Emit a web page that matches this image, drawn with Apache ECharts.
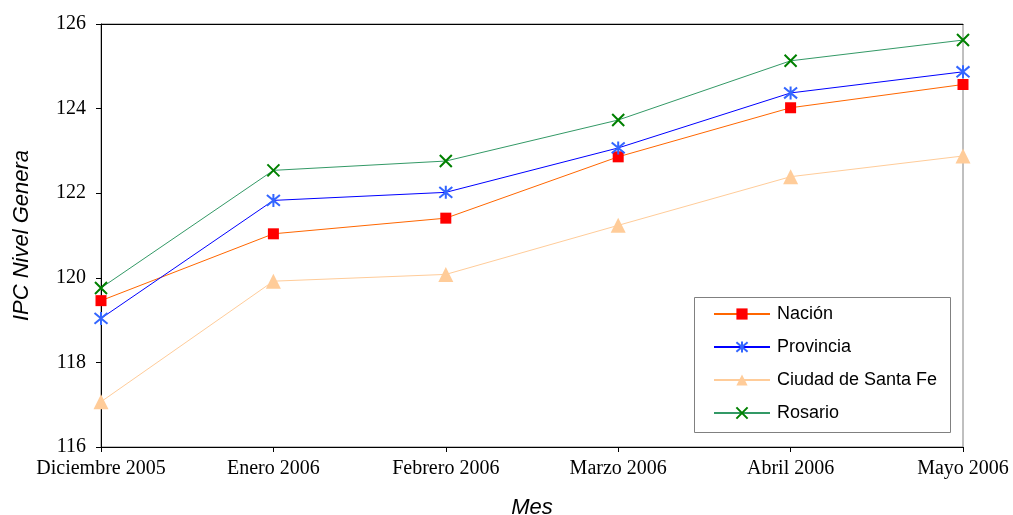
<!DOCTYPE html>
<html>
<head>
<meta charset="utf-8">
<script src="https://cdn.jsdelivr.net/npm/echarts@6/dist/echarts.min.js"></script>
<style>html,body{margin:0;padding:0;background:#fff;}#c{width:1013px;height:515px;}</style>
</head>
<body>
<div id="c"></div>
<script>
const categories = ['Diciembre 2005', 'Enero 2006', 'Febrero 2006', 'Marzo 2006', 'Abril 2006', 'Mayo 2006'];
const nacion    = [119.46, 121.04, 121.41, 122.86, 124.02, 124.57];
const provincia = [119.04, 121.83, 122.02, 123.07, 124.37, 124.87];
const santaFe   = [117.07, 119.92, 120.08, 121.24, 122.39, 122.88];
const rosario   = [119.76, 122.54, 122.76, 123.73, 125.13, 125.62];
const yTicks = { min: 116, max: 126, interval: 2 };

const starPath = 'path://M0,0L10,10M10,0L0,10M5,-1L5,11';
const xPath = 'path://M0,0L10,10M10,0L0,10';

const chart = echarts.init(document.getElementById('c'), null, { renderer: 'canvas' });
chart.setOption({
  animation: false,
  backgroundColor: '#ffffff',
  grid: { left: 101, right: 50, top: 24, bottom: 68, show: true, borderColor: '#808080', borderWidth: 1,
          containLabel: false, outerBoundsMode: 'none' },
  legend: {
    orient: 'vertical', left: 708, top: 300,
    itemWidth: 56, itemHeight: 14, itemGap: 15,
    textStyle: { fontFamily: 'Liberation Sans', fontSize: 18, color: '#000', padding: [0, 0, 0, 2] },
    data: ['Nación', 'Provincia', 'Ciudad de Santa Fe', 'Rosario']
  },
  graphic: [{
    type: 'rect', left: 692, top: 295,
    shape: { width: 256, height: 135 },
    style: { fill: 'none', stroke: '#808080', lineWidth: 1 }, z: 0
  }],
  xAxis: [{
    type: 'category', data: categories, boundaryGap: false,
    name: 'Mes', nameLocation: 'middle', nameGap: 50,
    nameTextStyle: { fontFamily: 'Liberation Sans', fontStyle: 'italic', fontSize: 22, color: '#000' },
    axisLine: { lineStyle: { color: '#000', width: 1 } },
    axisTick: { show: true, length: 5, lineStyle: { color: '#000' } },
    axisLabel: { fontFamily: 'Liberation Serif', fontSize: 20, color: '#000', margin: 12, interval: 0 },
    splitLine: { show: false }
  }, {
    type: 'category', data: categories, boundaryGap: false, position: 'top',
    axisLine: { lineStyle: { color: '#000', width: 1 } },
    axisTick: { show: false }, axisLabel: { show: false }, splitLine: { show: false }
  }],
  yAxis: {
    type: 'value', min: yTicks.min, max: yTicks.max, interval: yTicks.interval,
    name: 'IPC Nivel Genera', nameLocation: 'middle', nameGap: 68, nameRotate: 90,
    nameTextStyle: { fontFamily: 'Liberation Sans', fontStyle: 'italic', fontSize: 22, color: '#000' },
    axisLine: { show: true, lineStyle: { color: '#000', width: 1 } },
    axisTick: { show: true, length: 5, lineStyle: { color: '#000' } },
    axisLabel: { fontFamily: 'Liberation Serif', fontSize: 20, color: '#000', margin: 15 },
    splitLine: { show: false }
  },
  series: [
    { name: 'Nación', type: 'line', data: nacion, symbol: 'rect', symbolSize: 11,
      lineStyle: { color: '#FF6600', width: 1 }, itemStyle: { color: '#FF0000' }, z: 3 },
    { name: 'Provincia', type: 'line', data: provincia, symbol: starPath, symbolSize: 13,
      lineStyle: { color: '#0000FF', width: 1 }, itemStyle: { color: '#3366FF', borderColor: '#3366FF', borderWidth: 2 }, z: 4 },
    { name: 'Ciudad de Santa Fe', type: 'line', data: santaFe, symbol: 'triangle', symbolSize: 15,
      lineStyle: { color: '#FFCC99', width: 1 }, itemStyle: { color: '#FFCC99' }, z: 2 },
    { name: 'Rosario', type: 'line', data: rosario, symbol: xPath, symbolSize: 12,
      lineStyle: { color: '#339966', width: 1 }, itemStyle: { color: '#008000', borderColor: '#008000', borderWidth: 2 }, z: 5 }
  ]
});
</script>
</body>
</html>
